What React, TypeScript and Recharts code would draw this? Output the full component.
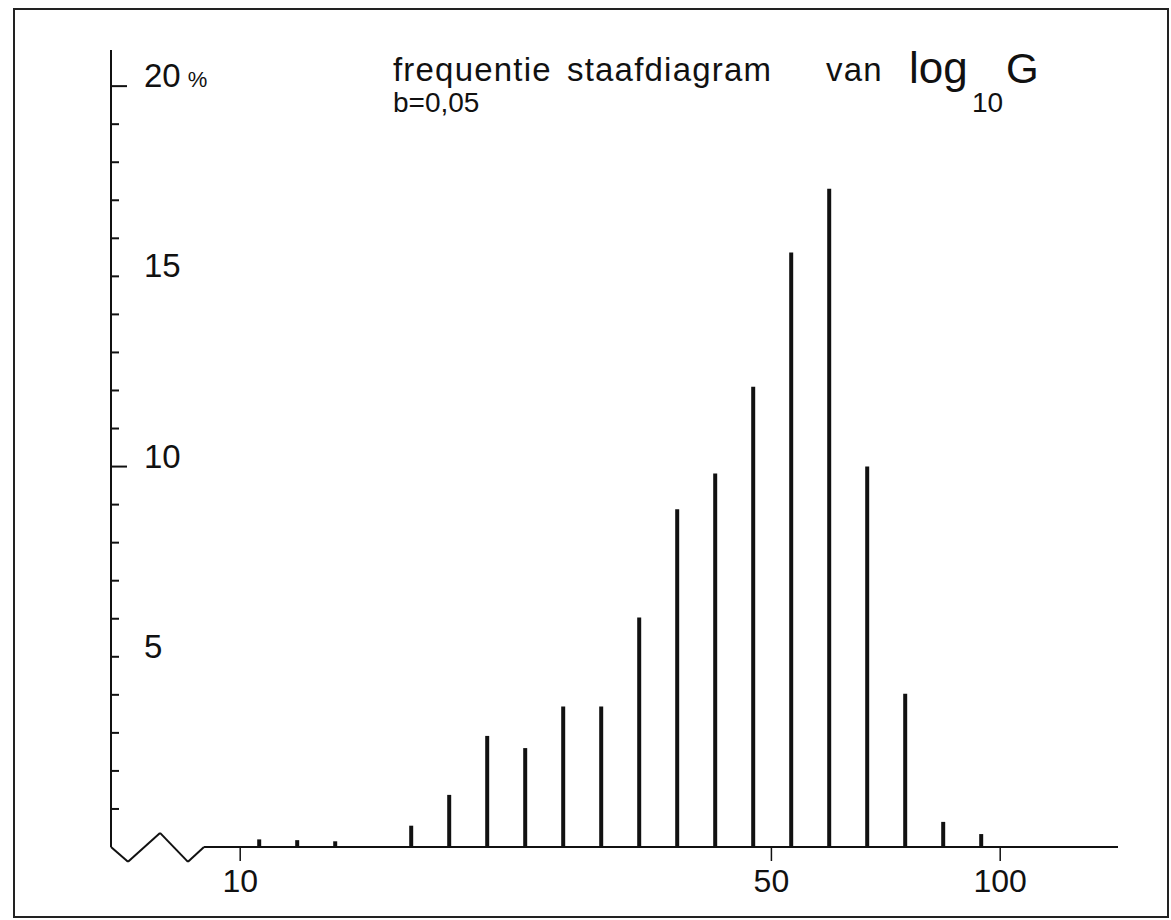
import React from 'react';
import { BarChart, Bar, XAxis, YAxis, ReferenceLine } from 'recharts';

// bin midpoints of log10 G (bin width b = 0,05)
const logG = [
  1.025, 1.075, 1.125, 1.175, 1.225, 1.275, 1.325, 1.375, 1.425, 1.475,
  1.525, 1.575, 1.625, 1.675, 1.725, 1.775, 1.825, 1.875, 1.925, 1.975,
];
// frequency in %
const freq = [
  0.2, 0.18, 0.15, 0, 0.56, 1.37, 2.92, 2.6, 3.69, 3.69,
  6.03, 8.88, 9.82, 12.1, 15.63, 17.3, 10.0, 4.03, 0.66, 0.34,
];

const xTicks = [1, 1.69897, 2];
const xTickLabels = ['10', '50', '100'];
const yTicks = [1, 2, 3, 4, 5, 6, 7, 8, 9, 10, 11, 12, 13, 14, 15, 16, 17, 18, 19, 20];
const yLabels: Record<number, string> = { 5: '5', 10: '10', 15: '15', 20: '20' };
const yMajor = [10, 20];

// broken axis zigzag, in data units
const axisBreak = [
  { x: 0.83, y: 0 },
  { x: 0.8524, y: -0.39 },
  { x: 0.8945, y: 0.37 },
  { x: 0.9313, y: -0.39 },
  { x: 0.9524, y: 0 },
  { x: 2.155, y: 0 },
];

const data = logG.map((x, i) => ({ x, freq: freq[i] }));

const FONT = '"Liberation Sans", Arial, sans-serif';
const INK = '#111';

const YTick = (props: any) => {
  const { x, y, payload } = props;
  const v = payload.value;
  const label = yLabels[v];
  return (
    <g>
      <line x1={x} x2={x + (yMajor.includes(v) ? 16 : 8)} y1={y} y2={y} stroke={INK} strokeWidth={2} />
      {label && (
        <text x={x + 33} y={y + 1} fontSize={33} fontFamily={FONT} fill={INK}>
          {label}
          {v === 20 && (
            <tspan fontSize={22} dx={7}>%</tspan>
          )}
        </text>
      )}
    </g>
  );
};

const XTick = (props: any) => {
  const { x, y, payload } = props;
  const idx = xTicks.indexOf(payload.value);
  return (
    <g>
      <line x1={x} x2={x} y1={y} y2={y + 14} stroke={INK} strokeWidth={1.5} />
      <text x={x} y={y + 45} textAnchor="middle" fontSize={32} fontFamily={FONT} fill={INK}>
        {xTickLabels[idx]}
      </text>
    </g>
  );
};

export default function App() {
  return (
    <div style={{ position: 'absolute', left: 0, top: 0, width: 1171, height: 920, background: '#fff' }}>
      <div
        style={{
          position: 'absolute',
          left: 13,
          top: 8,
          width: 1156,
          height: 910,
          border: '2px solid #222',
          boxSizing: 'border-box',
        }}
      />
      <BarChart
        width={1171}
        height={920}
        data={data}
        margin={{ top: 50, right: 53, bottom: 13, left: 0 }}
        style={{ position: 'absolute', left: 0, top: 0 }}
      >
        <XAxis
          dataKey="x"
          type="number"
          domain={[0.83, 2.155]}
          allowDataOverflow
          ticks={xTicks}
          interval={0}
          axisLine={false}
          tickLine={false}
          tickSize={0}
          tickMargin={0}
          tick={<XTick />}
          height={60}
        />
        <YAxis
          type="number"
          domain={[0, 20.95]}
          allowDataOverflow
          ticks={yTicks}
          interval={0}
          width={111}
          axisLine={{ stroke: INK, strokeWidth: 2 }}
          tickLine={false}
          tickSize={0}
          tickMargin={0}
          tick={<YTick />}
        />
        {axisBreak.slice(1).map((p, i) => (
          <ReferenceLine
            key={i}
            segment={[axisBreak[i], p]}
            stroke={INK}
            strokeWidth={2}
            ifOverflow="visible"
          />
        ))}
        <Bar dataKey="freq" fill={INK} barSize={4} isAnimationActive={false} />
      </BarChart>
      <svg
        width={1171}
        height={920}
        style={{ position: 'absolute', left: 0, top: 0, pointerEvents: 'none' }}
      >
        <g fontFamily={FONT} fill={INK}>
          <text y={81} fontSize={33} letterSpacing={1.2}>
            <tspan x={393}>frequentie</tspan>
            <tspan x={567}>staafdiagram</tspan>
            <tspan x={826}>van</tspan>
          </text>
          <text x={393} y={112} fontSize={28}>b=0,05</text>
          <text x={909} y={83} fontSize={44}>log</text>
          <text x={972} y={112} fontSize={28}>10</text>
          <text x={1006} y={83} fontSize={42}>G</text>
        </g>
      </svg>
    </div>
  );
}
